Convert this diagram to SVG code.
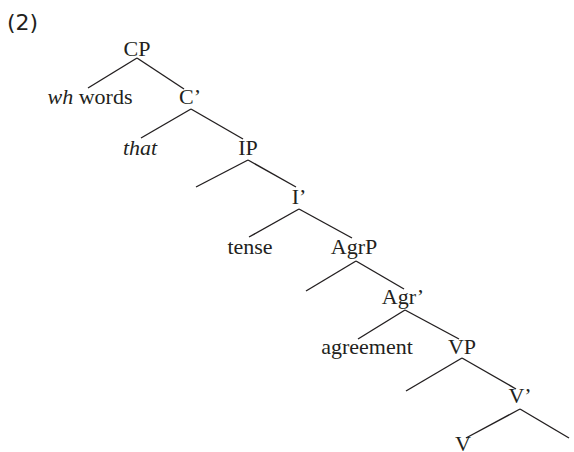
<svg xmlns="http://www.w3.org/2000/svg" width="574" height="452" viewBox="0 0 574 452">
<style>
.t{font-family:"Liberation Serif","Times New Roman",serif;font-size:22px;fill:#231f20;text-anchor:middle}
.i{font-style:italic}
.n{font-family:"DejaVu Sans","Noto Sans",sans-serif;font-size:22px;fill:#231f20}
#edges line{stroke:#231f20;stroke-width:1.4;stroke-linecap:butt}
</style>
<rect width="574" height="452" fill="#ffffff"/>
<text class="n" x="7" y="30">(2)</text>
<g id="edges">
<line x1="137" y1="58" x2="88" y2="88"/>
<line x1="137" y1="58" x2="184" y2="89"/>
<line x1="191" y1="109" x2="141" y2="138"/>
<line x1="191" y1="109" x2="243" y2="139"/>
<line x1="248" y1="160" x2="196" y2="187"/>
<line x1="248" y1="160" x2="296" y2="187"/>
<line x1="299" y1="209" x2="249" y2="237"/>
<line x1="299" y1="209" x2="352" y2="238"/>
<line x1="356" y1="261" x2="306" y2="291"/>
<line x1="356" y1="261" x2="404" y2="289"/>
<line x1="405" y1="310" x2="358" y2="339"/>
<line x1="405" y1="310" x2="459" y2="339"/>
<line x1="462" y1="358" x2="406" y2="391"/>
<line x1="462" y1="358" x2="516" y2="389"/>
<line x1="520" y1="409" x2="466" y2="438"/>
<line x1="520" y1="409" x2="569" y2="438"/>
</g>
<g id="CP"><text class="t" x="137" y="56">CP</text></g>
<g id="wh"><text class="t" x="90" y="104"><tspan class="i">wh</tspan> words</text></g>
<g id="Cbar"><text class="t" x="190" y="104">C’</text></g>
<g id="that"><text class="t i" x="140" y="155">that</text></g>
<g id="IP"><text class="t" x="248" y="155">IP</text></g>
<g id="Ibar"><text class="t" x="299" y="204">I’</text></g>
<g id="tense"><text class="t" x="250" y="254">tense</text></g>
<g id="AgrP"><text class="t" x="354" y="254">AgrP</text></g>
<g id="Agrbar"><text class="t" x="403" y="304">Agr’</text></g>
<g id="agreement"><text class="t" x="367" y="354">agreement</text></g>
<g id="VP"><text class="t" x="462" y="354">VP</text></g>
<g id="Vbar"><text class="t" x="520" y="403">V’</text></g>
<g id="V"><text class="t" x="463" y="451">V</text></g>
</svg>
